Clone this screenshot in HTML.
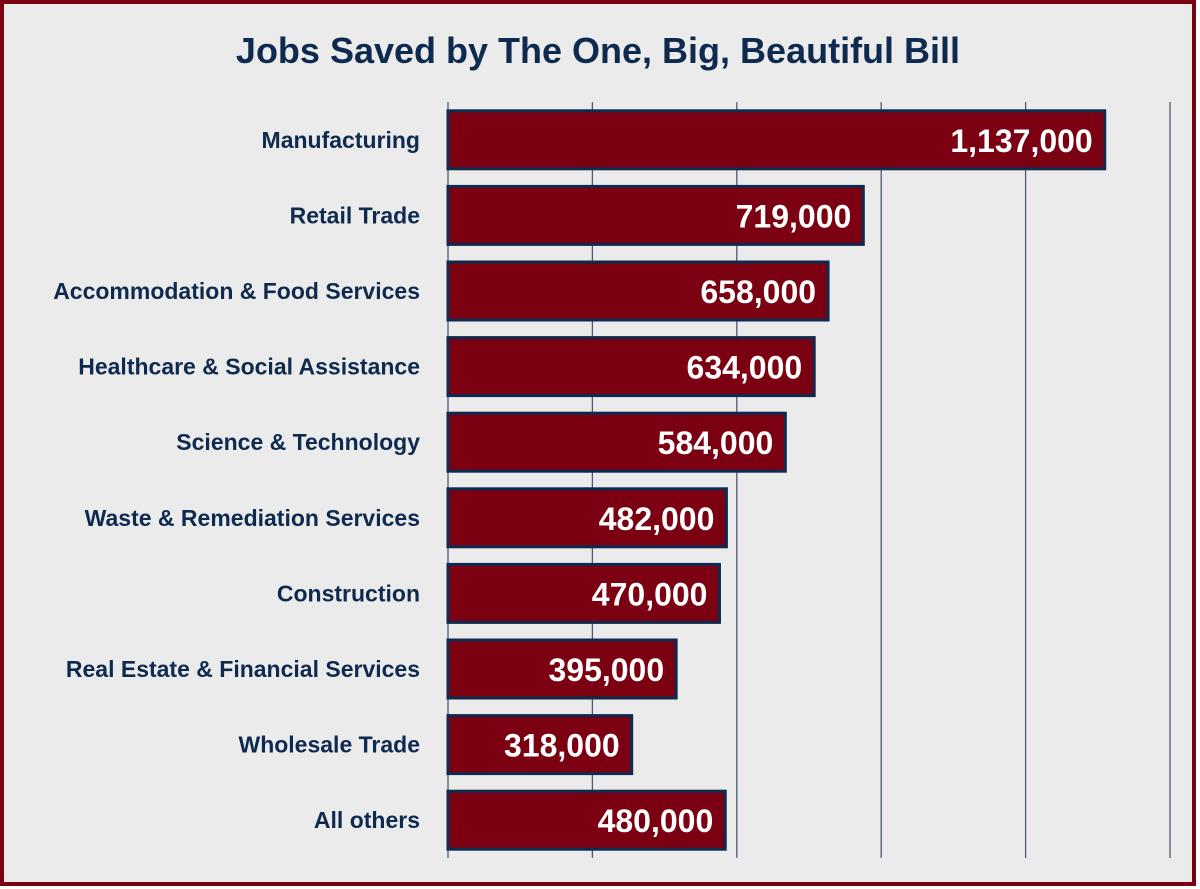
<!DOCTYPE html>
<html><head><meta charset="utf-8"><style>
body{margin:0;background:#fff;}
svg{display:block;font-family:"Liberation Sans",sans-serif;}
</style></head><body>
<svg id="c" width="1200" height="889">
<rect x="2" y="2" width="1192" height="882" fill="#ebebeb" stroke="#7a0012" stroke-width="4"/>
<text x="598" y="63" text-anchor="middle" font-size="36" font-weight="bold" fill="#0f2a4f">Jobs Saved by The One, Big, Beautiful Bill</text>
<g id="grid"></g><g id="bars"></g>
</svg>
<script>
const categories=["Manufacturing","Retail Trade","Accommodation & Food Services","Healthcare & Social Assistance","Science & Technology","Waste & Remediation Services","Construction","Real Estate & Financial Services","Wholesale Trade","All others"];
const values=[1137000,719000,658000,634000,584000,482000,470000,395000,318000,480000];
const ticks=[0,250000,500000,750000,1000000,1250000];
const NS="http://www.w3.org/2000/svg";
const x0=448,x1=1170,maxV=1250000,yTop=102,yBot=858;
const xs=v=>x0+v/maxV*(x1-x0);
const band=(yBot-yTop)/categories.length;
const grid=document.getElementById('grid'),bars=document.getElementById('bars');
function mk(t,a,p){const e=document.createElementNS(NS,t);for(const k in a)e.setAttribute(k,a[k]);p.appendChild(e);return e;}
ticks.forEach(t=>{const l=mk('line',{x1:xs(t),x2:xs(t),y1:yTop,y2:yBot,stroke:'#4a5a74','stroke-width':1.3},grid);

});
categories.forEach((c,i)=>{const cy=yTop+band*(i+0.5);
const r=mk('rect',{x:x0,y:cy-29,width:xs(values[i])-x0,height:58,fill:'#7a0012',stroke:'#0f2a4f','stroke-width':3},bars);


const lb=mk('text',{x:420,y:cy+8,'text-anchor':'end','font-size':23,'font-weight':'bold',fill:'#0f2a4f'},bars);
lb.textContent=c;


const vl=mk('text',{x:xs(values[i])-12,y:cy+12,'text-anchor':'end','font-size':32,'font-weight':'bold',fill:'#fff'},bars);
vl.textContent=values[i].toLocaleString('en-US');

});
</script>
</body></html>
